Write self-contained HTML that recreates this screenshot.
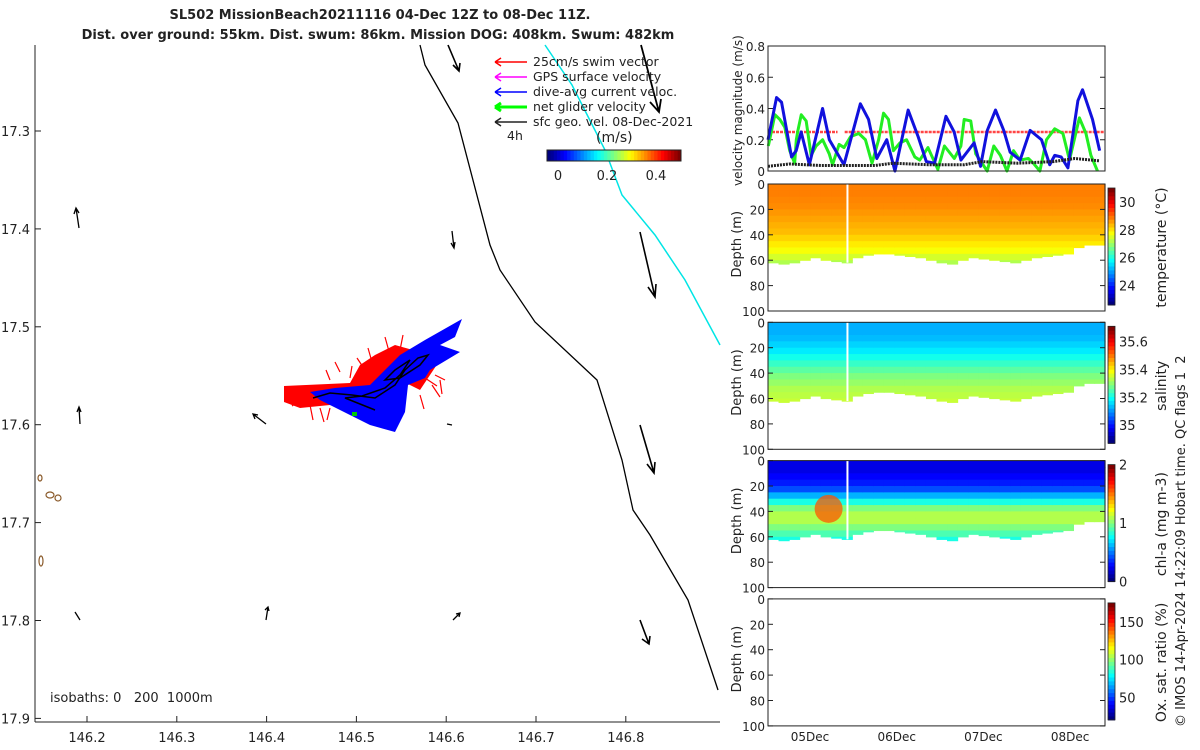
<!DOCTYPE html>
<html><head><meta charset="utf-8"><style>
body{margin:0;background:#fff;width:1200px;height:750px;overflow:hidden}
svg{display:block;font-family:"DejaVu Sans","Liberation Sans",sans-serif}
text{fill:#222;white-space:pre}
</style></head><body>
<svg id="fig" width="1200" height="750">
<g id="map">
<text x="380" y="19" text-anchor="middle" font-size="13" font-weight="bold">SL502 MissionBeach20211116 04-Dec 12Z to 08-Dec 11Z.</text>
<text x="378" y="39" text-anchor="middle" font-size="13" font-weight="bold">Dist. over ground: 55km. Dist. swum: 86km. Mission DOG: 408km. Swum: 482km</text>
<polyline points="420,45 425,65 458,123 490,245 500,270 535,322 597,380 622,460 633,510 650,535 688,600 718,690" fill="none" stroke="#000" stroke-width="1.3"/>
<polyline points="545,45 572,85 605,150 622,195 655,235 685,280 720,345" fill="none" stroke="#00e5e5" stroke-width="1.5"/>
<g fill="#f00">
<polygon points="284,386 350,383 360,365 375,355 395,345 420,352 440,360 420,390 400,380 380,395 355,410 330,405 300,408 284,402"/>
<g stroke="#f00" stroke-width="1.2" fill="none"><path d="M310,405 l3,15 M320,408 l4,14 M390,355 l-5,-18 M400,350 l3,-15 M432,385 l8,12 M420,395 l4,14 M425,378 l12,8 M365,370 l-8,-12 M340,372 l-5,-10 M330,380 l-4,-10 M350,378 l2,-12 M372,362 l-4,-14 M410,368 l10,-10 M435,375 l10,5 M440,380 l2,14 M300,400 l-8,6 M330,408 l-3,12"/></g>
</g>
<polygon points="310,392 335,388 370,385 400,355 425,340 462,319 455,337 440,345 460,352 430,370 425,378 408,385 405,412 395,432 370,425 340,410 320,400" fill="#0000ff"/>
<polyline points="313,398 330,393 352,395 375,398 395,385 405,370 418,358 428,355 420,365 400,378 385,380 395,370 410,360 400,375 385,388 362,396 345,398 360,404 375,410" fill="none" stroke="#000" stroke-width="1.5"/>
<rect x="352" y="412" width="5" height="4" fill="#0c0"/>
<g stroke="#000" stroke-width="1.3" fill="none">
<path d="M79,228 l-3,-20 m-2,6 l2,-6 l3,5"/><path d="M454,248 l-2,-17 m-1,12 l3,5 l1,-6"/><path d="M640,232 l15,65 m-7,-10 l7,10 l1,-13" stroke-width="1.6"/>
<path d="M80,424 l-1,-17 m-2,5 l2,-5 l2,5"/><path d="M266,424 l-13,-10 m2,5 l-2,-5 l5,1"/><path d="M447,424 l5,1"/>
<path d="M640,425 l14,48 m-7,-9 l7,9 l1,-11" stroke-width="1.6"/><path d="M80,620 l-5,-8"/><path d="M266,620 l2,-13 m-3,3 l3,-3 l1,4"/>
<path d="M453,620 l7,-7 m-4,1 l4,-1 l-1,4"/><path d="M640,620 l9,24 m-7,-5 l7,5 l1,-8" stroke-width="1.6"/>
<path d="M448,45 l11,26 m-6,-6 l6,6 l1,-8" stroke-width="1.6"/><path d="M641,45 l18,67 m-9,-10 l9,10 l2,-13" stroke-width="1.8"/>
</g>
<g fill="none" stroke="#8a5a2a" stroke-width="1.2"><ellipse cx="40" cy="478" rx="2" ry="3"/><ellipse cx="50" cy="495" rx="4" ry="3"/><ellipse cx="58" cy="498" rx="3" ry="3"/><ellipse cx="41" cy="561" rx="2" ry="5"/></g>
<g font-size="12.5">
<g stroke-width="1.5" fill="none"><path d="M495,62 h32 M495,62 l6,-4 M495,62 l6,4" stroke="#f00"/><path d="M495,77 h32 M495,77 l6,-4 M495,77 l6,4" stroke="#f0f"/><path d="M495,92 h32 M495,92 l6,-4 M495,92 l6,4" stroke="#00f"/><path d="M495,107 h32 M495,107 l6,-4 M495,107 l6,4" stroke="#0f0" stroke-width="3"/><path d="M495,122 h32 M495,122 l6,-4 M495,122 l6,4" stroke="#222"/></g>
<text x="533" y="66">25cm/s swim vector</text><text x="533" y="81">GPS surface velocity</text><text x="533" y="96">dive-avg current veloc.</text><text x="533" y="111">net glider velocity</text><text x="533" y="126">sfc geo. vel. 08-Dec-2021</text>
<text x="507" y="140">4h</text><text x="596" y="142" font-size="14">(m/s)</text>
</g>
<g id="mapcb"></g>
<text x="558" y="180" font-size="13" text-anchor="middle">0</text><text x="607" y="180" font-size="13" text-anchor="middle">0.2</text><text x="656" y="180" font-size="13" text-anchor="middle">0.4</text>
<line x1="35" y1="45" x2="35" y2="722" stroke="#222"/>
<line x1="35" y1="722" x2="720" y2="722" stroke="#222"/>
<g id="mapticks" font-size="13"></g>
<text x="50" y="702" font-size="13">isobaths: 0   200  1000m</text>
</g>
<g id="right"></g>
<text transform="translate(1185,727) rotate(-90)" font-size="13">© IMOS 14-Apr-2024 14:22:09 Hobart time. QC flags 1  2</text>
</svg>
<script>
// ---- velocity data (hours since 04-Dec 12Z, m/s) ----
const blueHours=[0,2.4,3.8,6.6,7.9,9.3,11.6,15.3,17.2,21.3,25.9,28.2,30.5,33.3,35.6,39.3,42.1,44.4,46.7,49.9,52.2,54.1,57.8,59.6,61.5,63.8,66.1,67.9,70.7,73.5,76.7,79,80.4,82.2,84.1,86.9,88.2,91,93];
const blueVals=[0.2,0.47,0.44,0.09,0.13,0.25,0.04,0.40,0.2,0.04,0.43,0.33,0.08,0.2,0,0.39,0.22,0.06,0.05,0.35,0.25,0.07,0.18,0.03,0.26,0.39,0.26,0.12,0.07,0.26,0.2,0.04,0.1,0.09,0.02,0.45,0.52,0.33,0.13];
const greenZ=[115,135,150,165,180,195,200,205,215,230,245,260,280,300,310,330,345,365,390,410,430,450,465,480,495,515,535,560,575,600,630,650,680,700,710,730,745,780,800,820,840,860,880,905,920,940,960,985,1010,1030,1060,1080,1095,1115];
const greenVals=[0.16,0.36,0.33,0.28,0.13,0.05,0.2,0.26,0.36,0.32,0.1,0.16,0.2,0.11,0.04,0.17,0.15,0.22,0.24,0.2,0.05,0.2,0.37,0.33,0.13,0.18,0.2,0.09,0.07,0.15,0.01,0.16,0.08,0.16,0.33,0.32,0.11,0,0.16,0.1,0,0.13,0.07,0.08,0.05,0,0.2,0.27,0.24,0.07,0.34,0.24,0.1,0];
const blackHours=[0,6,15,30,35,45,55,60,70,80,86,93];
const blackVals=[0.03,0.045,0.035,0.035,0.05,0.04,0.04,0.06,0.05,0.06,0.08,0.065];
const swimSpeed=0.25;
// ---- section data ----
const depthBins=[0,5,10,15,20,25,30,35,40,45,50,55,60,65];
const tempProfile=[28.9,28.9,28.85,28.8,28.7,28.6,28.5,28.4,28.2,28.0,27.8,27.5,27.2,27.0];
const salProfile=[35.12,35.12,35.13,35.15,35.17,35.2,35.23,35.26,35.29,35.31,35.33,35.34,35.35,35.35];
const chlProfile=[0.2,0.2,0.25,0.3,0.4,0.6,0.8,1.0,1.1,1.1,1.0,0.9,0.8,0.7];
const bottomDepth=[62,63,62,60,58,60,61,62,58,56,55,55,56,57,58,60,62,63,60,58,59,60,61,62,60,58,57,56,55,50,48,48];
const dayTicks=["05Dec","06Dec","07Dec","08Dec"];

const NS="http://www.w3.org/2000/svg";
function mk(tag,at,parent,txt){const e=document.createElementNS(NS,tag);for(const k in at)e.setAttribute(k,at[k]);if(txt!=null)e.textContent=txt;(parent||R).appendChild(e);return e;}
const R=document.getElementById('right');
function jet(t){t=Math.max(0,Math.min(1,t));const r=Math.max(0,Math.min(1,1.5-Math.abs(4*t-3))),g=Math.max(0,Math.min(1,1.5-Math.abs(4*t-2))),b=Math.max(0,Math.min(1,1.5-Math.abs(4*t-1)));return `rgb(${r*255|0},${g*255|0},${b*255|0})`;}
const X0=768,X1=1105,T0=0,T1=94.5;
const xh=h=>X0+(h-T0)/(T1-T0)*(X1-X0);
const mcb=document.getElementById('mapcb');
for(let i=0;i<40;i++){const r=mk('rect',{x:547+i*134/40,y:150,width:134/40+0.5,height:11,fill:jet(i/39)},mcb);}
mk('rect',{x:547,y:150,width:134,height:11,fill:'none',stroke:'#222'},mcb);
const mt=document.getElementById('mapticks');
["146.2","146.3","146.4","146.5","146.6","146.7","146.8"].forEach((l,i)=>{const x=87+i*89.8;mk('line',{x1:x,y1:722,x2:x,y2:716,stroke:'#222'},mt);const t=mk('text',{x:x,y:742,'text-anchor':'middle'},mt,l);});
["17.3","17.4","17.5","17.6","17.7","17.8","17.9"].forEach((l,i)=>{const y=131+i*97.9;mk('line',{x1:35,y1:y,x2:41,y2:y,stroke:'#222'},mt);const t=mk('text',{x:30,y:y+5,'text-anchor':'end'},mt,l);});
// velocity panel
const vy=v=>171-v/0.8*125;
const vp=mk('g',{});
[0,0.2,0.4,0.6,0.8].forEach(v=>{mk('text',{x:765,y:vy(v)+5,'text-anchor':'end','font-size':12},vp,v===0?'0':String(v));mk('line',{x1:X0,x2:X0+5,y1:vy(v),y2:vy(v),stroke:'#222'},vp);mk('line',{x1:X1,x2:X1-5,y1:vy(v),y2:vy(v),stroke:'#222'},vp);});
const sl=mk('path',{d:`M${X0},${vy(swimSpeed)}H${xh(19.5)}M${xh(21.5)},${vy(swimSpeed)}H${X1}`,stroke:'#f44',"stroke-width":2.5,"stroke-dasharray":"3,1",fill:'none'},vp);
const gl=mk('polyline',{points:greenZ.map((z,i)=>`${xh((z-114)*0.0923)},${vy(greenVals[i])}`).join(' '),fill:'none',stroke:'#2e2',"stroke-width":3,"stroke-linejoin":"round"},vp);
const bl=mk('polyline',{points:blueHours.map((h,i)=>`${xh(h)},${vy(blueVals[i])}`).join(' '),fill:'none',stroke:'#11d',"stroke-width":3,"stroke-linejoin":"round"},vp);
const kl=mk('polyline',{points:blackHours.map((h,i)=>`${xh(h)},${vy(blackVals[i])}`).join(' '),fill:'none',stroke:'#222',"stroke-width":3,"stroke-dasharray":"2,1"},vp);
mk('rect',{x:X0,y:46,width:X1-X0,height:125,fill:'none',stroke:'#222'},vp);
mk('text',{transform:'translate(742,186) rotate(-90)','font-size':12},vp,'velocity magnitude (m/s)');
const panels=[
 {name:'temperature',prof:tempProfile,vmin:22.6,vmax:31,ticks:[24,26,28,30],label:'temperature (°C)'},
 {name:'salinity',prof:salProfile,vmin:34.87,vmax:35.71,ticks:[35,35.2,35.4,35.6],label:'salinity'},
 {name:'chl-a',prof:chlProfile,vmin:0,vmax:2,ticks:[0,1,2],label:'chl-a (mg m-3)'},
 {name:'oxygen',prof:null,vmin:20,vmax:175,ticks:[50,100,150],label:'Ox. sat. ratio (%)'}];
const colW=(T1-T0)/bottomDepth.length;
panels.forEach((p,pi)=>{
 const top=184+138.3*pi,H=127,dy=d=>top+d/100*H;
 const g=mk('g',{});
 if(p.prof){bottomDepth.forEach((bd,c)=>{depthBins.forEach((d,k)=>{if(d>=bd)return;const d2=Math.min(bd,d+5);
   const cell=mk('rect',{x:xh(c*colW),y:dy(d),width:xh(colW)-X0+0.6,height:dy(d2)-dy(d)+0.6,fill:jet((p.prof[k]-p.vmin)/(p.vmax-p.vmin))},g);
   });});
  mk('rect',{x:xh(22),y:top,width:2,height:H*0.62,fill:'#fff'},g);}
 if(p.name==='chl-a'){mk('ellipse',{cx:xh(17),cy:dy(38),rx:14,ry:14,fill:'#f50',opacity:0.75},g);}
 mk('rect',{x:X0,y:top,width:X1-X0,height:H,fill:'none',stroke:'#222'},g);
 [0,20,40,60,80,100].forEach(d=>{mk('text',{x:765,y:dy(d)+5,'text-anchor':'end','font-size':12},g,String(d));mk('line',{x1:X0,x2:X0+5,y1:dy(d),y2:dy(d),stroke:'#222'},g);mk('line',{x1:X1,x2:X1-5,y1:dy(d),y2:dy(d),stroke:'#222'},g);});
 mk('text',{transform:`translate(741,${top+H/2+30}) rotate(-90)`,'font-size':13},g,'Depth (m)');
 const cy0=top+4,cy1=top+H-6;
 for(let i=0;i<30;i++){const c=mk('rect',{x:1108,y:cy1-(i+1)*(cy1-cy0)/30,width:7,height:(cy1-cy0)/30+0.5,fill:jet(i/29)},g);}
 mk('rect',{x:1108,y:cy0,width:7,height:cy1-cy0,fill:'none',stroke:'#222','stroke-width':0.8},g);
 p.ticks.forEach(t=>{const y=cy1-(t-p.vmin)/(p.vmax-p.vmin)*(cy1-cy0);mk('text',{x:1119,y:y+5,'font-size':13},g,String(t));});
 mk('text',{transform:`translate(1166,${top+H/2}) rotate(-90)`,'text-anchor':'middle','font-size':14},g,p.label);
});
dayTicks.forEach((l,i)=>{const x=810+i*86.7;const t=mk('text',{x:x,y:741,'text-anchor':'middle','font-size':12},R,l);});
</script>
</body></html>
